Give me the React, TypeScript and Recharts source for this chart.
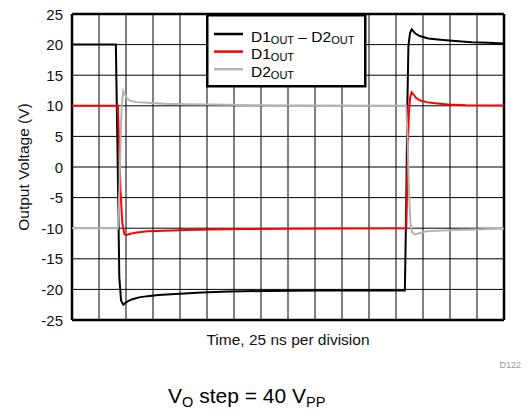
import React from "react";
import {
  LineChart,
  Line,
  XAxis,
  YAxis,
  Legend,
} from "recharts";

// ---------- data ----------
const timeTicks = [0, 25, 50, 75, 100, 125, 150, 175, 200, 225, 250, 275, 300, 325, 350, 375, 400];
const voltTicks = [-25, -20, -15, -10, -5, 0, 5, 10, 15, 20, 25];

const diffT = [0, 40.6, 42.2, 43.8, 45.4, 47.5, 49.5, 52, 56, 62, 70, 80, 100, 120, 145, 180, 230, 280, 308.2, 309.5, 310.5, 311.5, 313, 314.5, 316, 318, 322, 330, 341, 355, 370, 385, 400];
const diffV = [20, 20, 2, -18, -21.8, -22.5, -22.2, -21.9, -21.6, -21.3, -21.1, -20.9, -20.7, -20.5, -20.35, -20.25, -20.2, -20.2, -20.2, -6, 10, 19.8, 21.9, 22.5, 22.2, 21.8, 21.4, 21.0, 20.8, 20.6, 20.4, 20.3, 20.2];

const d1T = [0, 42.5, 43.5, 45, 46.5, 48.5, 50.5, 54, 60, 70, 85, 105, 130, 160, 200, 250, 309.5, 310.2, 311, 312, 313.2, 314.5, 316.5, 318.5, 322, 328, 336, 348, 365, 400];
const d1V = [10, 10, 4, -4, -9, -11.0, -11.1, -10.9, -10.7, -10.5, -10.4, -10.3, -10.2, -10.15, -10.1, -10.05, -10, -4, 4, 9, 11.5, 12.2, 11.8, 11.3, 10.9, 10.6, 10.4, 10.2, 10.1, 10.05];

const d2T = [0, 42.5, 43.8, 44.9, 46, 47.5, 49, 51, 54, 60, 70, 85, 105, 130, 170, 220, 309.5, 310.8, 312, 313.3, 315, 317.5, 320, 324, 328, 338, 355, 375, 400];
const d2V = [-10, -10, -4, 4, 10, 12.4, 11.9, 11.2, 10.8, 10.6, 10.5, 10.35, 10.25, 10.2, 10.1, 10.05, 10, 4, -4, -9, -10.7, -11.0, -10.9, -10.7, -10.5, -10.4, -10.3, -10.2, -10.05];

// legend labels: [main, subscript] pairs
const legendLabels: [string, string][][] = [
  [["D1", "OUT"], [" \u2013 D2", "OUT"]],
  [["D1", "OUT"]],
  [["D2", "OUT"]],
];
const seriesColors = ["#000000", "#ff0000", "#b4b4b4"];
const seriesNames = ["D1OUT - D2OUT", "D1OUT", "D2OUT"];

const toRows = (t: number[], v: number[]) => t.map((x, i) => ({ t: x, v: v[i] }));
const diffData = toRows(diffT, diffV);
const d1Data = toRows(d1T, d1V);
const d2Data = toRows(d2T, d2V);

const FONT = "'Liberation Sans', Arial, Helvetica, sans-serif";

// layout
const W = 529;
const H = 416;
const MARGIN = { top: 14, right: 25, left: 12, bottom: 66 };
const Y_AXIS_W = 60;
const X_AXIS_H = 30;
const PLOT_LEFT = MARGIN.left + Y_AXIS_W;
const PLOT_RIGHT = W - MARGIN.right;
const PLOT_H = H - MARGIN.top - MARGIN.bottom - X_AXIS_H;
const Y_TICK_GAP = 9;

const LegendBox = () => (
  <svg width={161} height={74} style={{ display: "block", overflow: "visible" }}>
    <rect x={1.25} y={1.25} width={158} height={71} fill="#fff" stroke="#000" strokeWidth={2.5} />
    {legendLabels.map((parts, i) => {
      const cy = 20 + i * 17.6;
      return (
        <g key={i}>
          <line x1={8} x2={37} y1={cy} y2={cy} stroke={seriesColors[i]} strokeWidth={2.5} />
          <text x={45} y={cy + 7.5} fontFamily={FONT} fontSize={15.5} fill="#000">
            {parts.map(([main, sub], j) => (
              <React.Fragment key={j}>
                <tspan dy={j === 0 ? 0 : -2}>{main}</tspan>
                <tspan fontSize={11} dy={2}>{sub}</tspan>
              </React.Fragment>
            ))}
          </text>
        </g>
      );
    })}
  </svg>
);

// Y tick: label + horizontal grid line (frame line at the ends)
const YTick = (props: any) => {
  const { x, y, payload } = props;
  const v = payload.value;
  const edge = v === voltTicks[0] || v === voltTicks[voltTicks.length - 1];
  return (
    <g>
      <line x1={PLOT_LEFT} x2={PLOT_RIGHT} y1={y} y2={y} stroke="#000" strokeWidth={edge ? 2.5 : 1} />
      <text
        x={x}
        y={y}
        textAnchor="end"
        dominantBaseline="central"
        fontFamily={FONT}
        fontSize={15}
        fill="#111"
      >
        {String(v)}
      </text>
    </g>
  );
};

// X tick: vertical grid line (frame line at the ends)
const XTick = (props: any) => {
  const { x, y, payload } = props;
  const v = payload.value;
  const edge = v === timeTicks[0] || v === timeTicks[timeTicks.length - 1];
  return <line x1={x} x2={x} y1={y} y2={y - PLOT_H} stroke="#000" strokeWidth={edge ? 2.5 : 1} />;
};

const YLabel = (props: any) => {
  const vb = props.viewBox || { x: MARGIN.left, y: MARGIN.top, width: Y_AXIS_W, height: PLOT_H };
  const cx = vb.x + 11;
  const cy = vb.y + vb.height / 2;
  return (
    <text
      x={cx}
      y={cy}
      transform={`rotate(-90 ${cx} ${cy})`}
      textAnchor="middle"
      dominantBaseline="central"
      fontFamily={FONT}
      fontSize={15.5}
      fill="#111"
    >
      Output Voltage (V)
    </text>
  );
};

const XLabel = (props: any) => {
  const vb = props.viewBox || { x: PLOT_LEFT, y: MARGIN.top + PLOT_H, width: PLOT_RIGHT - PLOT_LEFT, height: X_AXIS_H };
  return (
    <text x={vb.x + vb.width / 2} y={vb.y + 24.5} textAnchor="middle" fontFamily={FONT} fontSize={15.5} fill="#111">
      Time, 25 ns per division
    </text>
  );
};

const lineProps: any = {
  dataKey: "v",
  strokeWidth: 2,
  dot: false,
  activeDot: false,
  isAnimationActive: false,
  type: "linear",
};

const layer: React.CSSProperties = { position: "absolute", left: 0, top: 0, width: W, height: H };

export default function App() {
  return (
    <div style={{ ...layer, background: "#fff" }}>
      {/* bottom layer: grid, frame, tick labels and axis titles */}
      <div style={layer}>
        <LineChart width={W} height={H} data={diffData} margin={MARGIN}>
          <XAxis
            type="number"
            dataKey="t"
            domain={[0, 400]}
            ticks={timeTicks}
            interval={0}
            tick={<XTick />}
            tickLine={false}
            axisLine={false}
            tickSize={0}
            tickMargin={0}
            height={X_AXIS_H}
            allowDataOverflow
            label={<XLabel />}
          />
          <YAxis
            type="number"
            domain={[-25, 25]}
            ticks={voltTicks}
            interval={0}
            tick={<YTick />}
            tickLine={false}
            axisLine={false}
            tickSize={0}
            tickMargin={Y_TICK_GAP}
            width={Y_AXIS_W}
            allowDataOverflow
            label={<YLabel />}
          />
        </LineChart>
      </div>
      {/* top layer: the traces and the legend, same scales */}
      <div style={layer}>
        <LineChart width={W} height={H} data={diffData} margin={MARGIN}>
          <XAxis
            type="number"
            dataKey="t"
            domain={[0, 400]}
            ticks={timeTicks}
            tick={false}
            tickLine={false}
            axisLine={false}
            height={X_AXIS_H}
            allowDataOverflow
          />
          <YAxis
            type="number"
            domain={[-25, 25]}
            ticks={voltTicks}
            tick={false}
            tickLine={false}
            axisLine={false}
            width={Y_AXIS_W}
            allowDataOverflow
          />
          <Line {...lineProps} data={diffData} name={seriesNames[0]} stroke={seriesColors[0]} />
          <Line {...lineProps} data={d1Data} name={seriesNames[1]} stroke={seriesColors[1]} />
          <Line {...lineProps} data={d2Data} name={seriesNames[2]} stroke={seriesColors[2]} />
          <Legend
            layout="vertical"
            align="center"
            verticalAlign="middle"
            content={() => <LegendBox />}
            wrapperStyle={{ position: "absolute", left: 206, top: 13.5, width: 161, height: 74 }}
          />
        </LineChart>
      </div>
      <svg width={W} height={H} style={{ ...layer, pointerEvents: "none" }}>
        <text x={521} y={367.5} textAnchor="end" fontFamily={FONT} fontSize={9} fill="#9a9a9a">
          D122
        </text>
        <text x={168} y={403} fontFamily={FONT} fontSize={21} fill="#000">
          <tspan>V</tspan>
          <tspan fontSize={14.5} dy={4}>O</tspan>
          <tspan dy={-4}> step = 40 V</tspan>
          <tspan fontSize={14.5} dy={4}>PP</tspan>
        </text>
      </svg>
    </div>
  );
}
